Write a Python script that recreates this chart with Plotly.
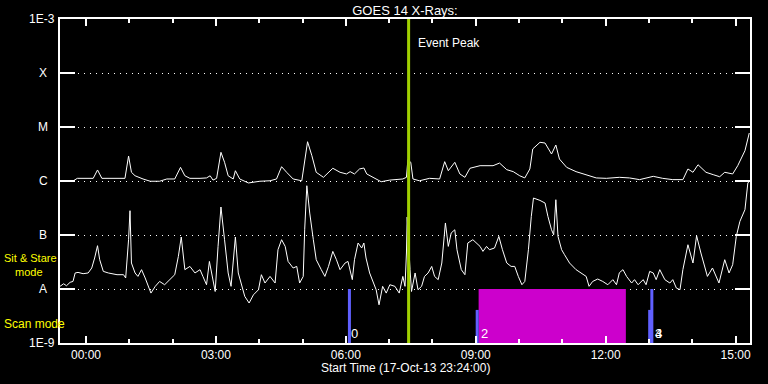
import math
import pandas as pd
import plotly.graph_objects as go

# ---- data (minutes from 2013-10-18 00:00, flux in W/m^2) ----
long_min = [-36, -18, -12, 10, 16, 22, 54, 59, 63, 68,
            79, 89, 102, 112, 123, 131, 137, 144, 158, 167,
            172, 176, 181, 187, 192, 197, 204, 207, 213, 225,
            241, 255, 264, 271, 278, 287, 299, 303, 307, 313,
            319, 329, 336, 342, 352, 361, 366, 372, 379, 385,
            389, 398, 409, 421, 439, 444, 446, 450, 453, 462,
            476, 490, 497, 502, 511, 518, 525, 532, 546, 564,
            573, 583, 592, 601, 608, 615, 619, 629, 636, 645,
            651, 656, 666, 679, 693, 707, 721, 739, 753, 767,
            786, 799, 813, 827, 834, 841, 848, 859, 869, 878,
            885, 896, 903, 908, 913, 919]
long_flux_e6 = [1.0, 1.0, 1.12, 1.12, 1.6, 1.12, 1.12, 2.9, 1.45, 1.25,
                1.09, 0.99, 0.99, 1.09, 1.09, 1.79, 1.25, 1.12, 1.12, 1.14,
                1.25, 1.04, 1.12, 3.4, 2.22, 1.25, 1.09, 1.55, 1.09, 0.92,
                0.99, 1.01, 1.09, 1.84, 1.45, 1.09, 1.01, 2.55, 5.34, 2.94,
                1.45, 1.17, 1.45, 1.72, 1.45, 1.35, 1.49, 1.35, 1.67, 1.74,
                1.35, 1.17, 0.97, 1.04, 1.09, 1.17, 2.48, 2.22, 1.09, 1.01,
                1.12, 1.09, 2.28, 1.55, 2.22, 1.35, 1.17, 1.72, 1.92, 1.92,
                2.15, 1.62, 1.49, 1.25, 1.14, 1.67, 3.92, 5.21, 5.05, 3.16,
                4.64, 2.55, 1.79, 1.49, 1.29, 1.14, 1.12, 1.17, 1.14, 1.06,
                1.22, 1.12, 1.06, 1.06, 1.67, 1.45, 2.0, 1.45, 1.31, 1.2,
                1.45, 1.35, 1.92, 2.75, 3.64, 7.74]

short_min = [-36, -31, -27, -22, -18, -15, -11, -4, 3, 8,
             12, 16, 19, 24, 31, 43, 52, 55, 59, 61,
             63, 68, 72, 77, 82, 86, 90, 96, 102, 109,
             116, 123, 128, 132, 137, 144, 151, 158, 162, 167,
             171, 174, 179, 183, 187, 192, 197, 201, 204, 207,
             211, 216, 220, 226, 232, 239, 243, 248, 255, 262,
             266, 271, 276, 280, 287, 292, 296, 301, 303, 306,
             310, 315, 319, 326, 331, 336, 342, 347, 352, 359,
             363, 369, 372, 377, 382, 385, 388, 393, 398, 402,
             406, 411, 416, 421, 428, 434, 439, 442, 444, 445,
             449, 451, 456, 460, 465, 469, 474, 479, 483, 488,
             493, 496, 498, 502, 506, 511, 514, 520, 525, 529,
             536, 546, 550, 555, 559, 566, 572, 577, 583, 589,
             594, 599, 604, 608, 613, 617, 620, 629, 636, 640,
             645, 648, 651, 654, 659, 663, 670, 679, 686, 693,
             697, 702, 709, 716, 723, 730, 735, 739, 744, 749,
             756, 760, 765, 772, 776, 781, 786, 790, 795, 802,
             809, 813, 818, 823, 827, 834, 841, 846, 852, 861,
             868, 877, 885, 891, 896, 901, 906, 913, 917, 919]
short_flux_e8 = [1.12, 1.25, 1.15, 1.33, 1.38, 1.98, 2.03, 1.92, 1.98, 2.45,
                 3.75, 6.34, 3.49, 2.12, 1.98, 1.84, 1.84, 1.6, 8.18, 28.2,
                 3.03, 1.98, 1.71, 2.28, 1.6, 1.12, 0.84, 1.12, 1.38, 1.2,
                 1.49, 1.84, 4.02, 9.18, 2.28, 2.62, 1.98, 2.28, 1.71, 1.2,
                 3.24, 1.98, 0.9, 6.15, 33.0, 8.18, 1.98, 1.12, 3.03, 9.18,
                 1.98, 1.12, 0.73, 0.55, 0.78, 0.97, 1.84, 1.29, 1.71, 1.29,
                 5.34, 8.18, 6.15, 3.24, 2.45, 2.62, 1.29, 1.71, 12.5, 81.8,
                 25.5, 8.18, 3.49, 2.28, 1.71, 2.62, 4.97, 3.49, 2.28, 3.03,
                 3.24, 1.49, 3.49, 7.11, 5.74, 7.11, 3.75, 1.98, 1.29, 0.97,
                 0.51, 1.12, 0.84, 1.2, 1.12, 0.84, 1.71, 1.12, 4.64, 21.5,
                 2.28, 0.9, 1.98, 0.97, 1.12, 1.71, 1.98, 2.62, 1.71, 1.49,
                 3.03, 8.18, 16.7, 6.15, 10.9, 12.5, 5.34, 2.28, 1.84, 7.11,
                 8.18, 6.15, 4.97, 6.15, 5.34, 5.74, 9.42, 5.34, 3.03, 2.62,
                 2.62, 1.71, 1.2, 1.38, 5.34, 22.1, 48.4, 43.7, 39.1, 22.1,
                 12.5, 10.1, 45.0, 9.42, 5.34, 4.32, 3.03, 2.28, 1.98, 1.71,
                 1.12, 1.38, 1.53, 1.38, 1.2, 1.49, 1.2, 2.0, 2.28, 1.71,
                 1.29, 1.49, 1.2, 1.49, 1.2, 2.12, 1.98, 1.49, 2.28, 1.49,
                 1.29, 1.49, 1.04, 0.97, 2.28, 6.6, 3.03, 9.7, 4.64, 1.71,
                 2.45, 1.29, 3.49, 1.98, 2.82, 9.42, 17.9, 29.4, 91.8, 98.0]

base_day = pd.Timestamp("2013-10-18 00:00:00")
start_time = pd.Timestamp("2013-10-17 23:24:00")
end_time = pd.Timestamp("2013-10-18 15:20:00")
event_peak = pd.Timestamp("2013-10-18 07:27:00")

# scan-mode block (magenta) and instrument markers (blue)
scan_block = ["2013-10-18 09:04:00", "2013-10-18 12:28:00"]
marker_times = ["2013-10-18 06:05:00", "2013-10-18 09:02:00",
                "2013-10-18 13:01:00", "2013-10-18 13:04:00"]
marker_tops = [1e-8, 4.1e-9, 4.1e-9, 1e-8]
marker_labels = ["0", "2", "3", "4"]
marker_label_times = ["2013-10-18 06:05:00", "2013-10-18 09:04:00",
                      "2013-10-18 13:05:00", "2013-10-18 13:05:00"]

ytick_vals = [1e-9, 1e-8, 1e-7, 1e-6, 1e-5, 1e-4, 1e-3]
ytick_text = ["1E-9", "A", "B", "C", "M", "X", "1E-3"]

long_t = base_day + pd.to_timedelta(long_min, unit="m")
short_t = base_day + pd.to_timedelta(short_min, unit="m")
long_flux = [v * 1e-6 for v in long_flux_e6]
short_flux = [v * 1e-8 for v in short_flux_e8]

FONT = "Liberation Sans"
fig = go.Figure()

# magenta block
fig.add_trace(go.Scatter(
    x=[scan_block[0], scan_block[1], scan_block[1], scan_block[0], scan_block[0]],
    y=[1e-9, 1e-9, 1e-8, 1e-8, 1e-9], mode="lines", fill="toself",
    fillcolor="#cc00cc", line=dict(color="#cc00cc", width=0),
    hoverinfo="skip", showlegend=False))

for t, top in zip(marker_times, marker_tops):
    fig.add_trace(go.Scatter(x=[t, t], y=[1e-9, top], mode="lines",
                             line=dict(color="#6060ff", width=3),
                             hoverinfo="skip", showlegend=False))

fig.add_trace(go.Scatter(x=long_t, y=long_flux, mode="lines",
                         line=dict(color="white", width=1), showlegend=False))
fig.add_trace(go.Scatter(x=short_t, y=short_flux, mode="lines",
                         line=dict(color="white", width=1), showlegend=False))

fig.add_trace(go.Scatter(x=[event_peak, event_peak], y=[1e-9, 1e-3], mode="lines",
                         line=dict(color="#a0d000", width=3),
                         hoverinfo="skip", showlegend=False))

annotations = []
for v, txt in zip(ytick_vals, ytick_text):
    if txt.startswith("1E"):
        annotations.append(dict(xref="paper", yref="y", x=-0.005, y=math.log10(v),
                                text=txt, xanchor="right", yanchor="middle",
                                showarrow=False, font=dict(color="white", size=12, family=FONT)))
    else:
        annotations.append(dict(xref="paper", yref="y", x=-0.0246, y=math.log10(v),
                                text=txt, xanchor="center", yanchor="middle",
                                showarrow=False, font=dict(color="white", size=12, family=FONT)))

for t, lab in zip(marker_label_times, marker_labels):
    annotations.append(dict(xref="x", yref="paper", x=t, y=0.03, text=lab,
                            xanchor="left", yanchor="middle", showarrow=False,
                            font=dict(color="white", size=13, family=FONT)))

annotations += [
    dict(xref="x", yref="paper", x=event_peak, y=0.927, text="Event Peak",
         xanchor="left", xshift=7, yanchor="middle", showarrow=False,
         font=dict(color="white", size=12, family=FONT)),
    dict(xref="paper", yref="paper", x=-0.084, y=0.263, text="Sit & Stare",
         xanchor="left", yanchor="middle", showarrow=False,
         font=dict(color="#ffff00", size=11, family=FONT)),
    dict(xref="paper", yref="paper", x=-0.068, y=0.219, text="mode",
         xanchor="left", yanchor="middle", showarrow=False,
         font=dict(color="#ffff00", size=11, family=FONT)),
    dict(xref="paper", yref="paper", x=-0.084, y=0.06, text="Scan mode",
         xanchor="left", yanchor="middle", showarrow=False,
         font=dict(color="#ffff00", size=12, family=FONT)),
    dict(xref="paper", yref="paper", x=0.5, y=-0.076,
         text="Start Time (17-Oct-13 23:24:00)", xanchor="center", yanchor="middle",
         showarrow=False, font=dict(color="white", size=12, family=FONT)),
]

fig.update_layout(
    width=768, height=384,
    paper_bgcolor="black", plot_bgcolor="black",
    margin=dict(l=60, r=18, t=19, b=41),
    title=dict(text="GOES 14 X-Rays:", x=0.5, xref="paper", xanchor="center",
               y=1 - 10 / 384, yref="container", yanchor="middle",
               font=dict(color="white", size=13, family=FONT)),
    annotations=annotations,
    showlegend=False,
    hovermode=False,
)
fig.update_xaxes(
    type="date", range=[start_time, end_time],
    tickformat="%H:%M", dtick=3 * 3600 * 1000, tick0="2013-10-18 00:00:00",
    ticks="inside", ticklen=7, tickwidth=1.5, tickcolor="white",
    minor=dict(dtick=3600 * 1000, ticks="inside", ticklen=4, tickwidth=1.5,
               tickcolor="white", showgrid=False),
    showline=True, linecolor="white", linewidth=1.5, mirror="ticks",
    showgrid=False, zeroline=False,
    tickfont=dict(color="white", size=12, family=FONT),
)
fig.update_yaxes(
    type="log", range=[-9, -3], tickvals=ytick_vals, ticktext=ytick_text,
    showticklabels=False,
    ticks="inside", ticklen=15, tickwidth=1.5, tickcolor="white",
    showline=True, linecolor="white", linewidth=1.5, mirror="ticks",
    showgrid=True, gridcolor="white", gridwidth=1, griddash="1px,5px",
    zeroline=False,
)

fig.write_html("out.html")
